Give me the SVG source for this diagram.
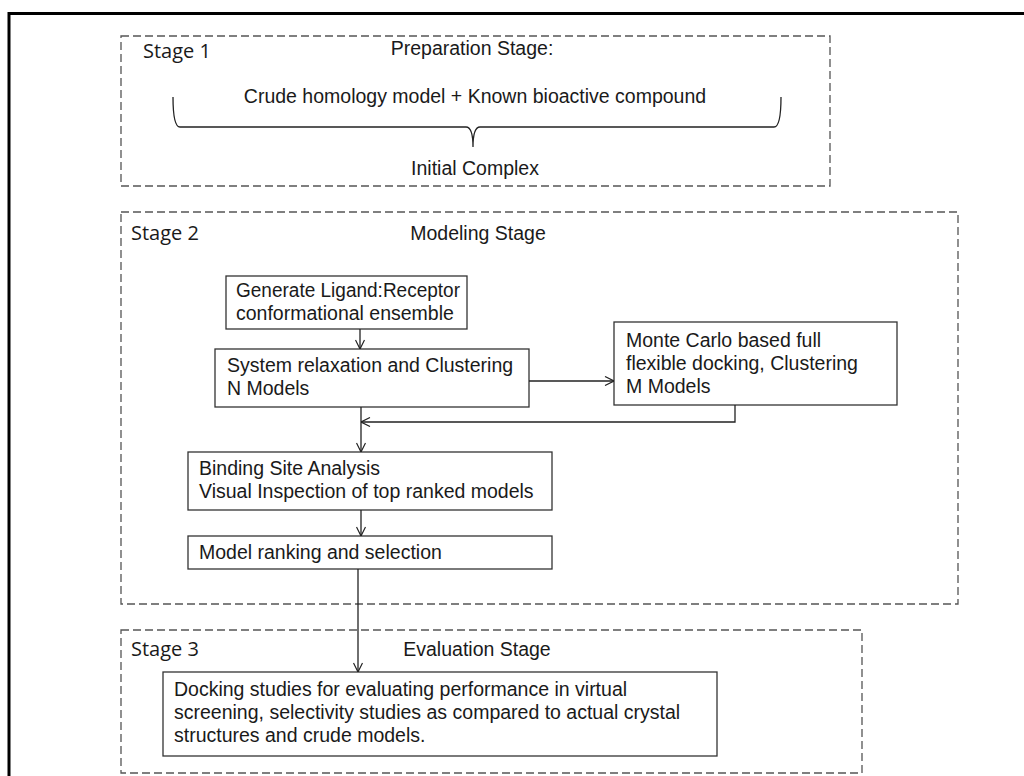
<svg xmlns="http://www.w3.org/2000/svg" width="1024" height="776" viewBox="0 0 1024 776">
<defs>
<marker id="arr" viewBox="0 0 10 10" refX="10" refY="5" markerWidth="10" markerHeight="10" markerUnits="userSpaceOnUse" orient="auto">
<polyline points="1,0.5 10,5 1,9.5" fill="none" stroke="#222" stroke-width="1.2"/>
</marker>
</defs>
<style>
.stage{fill:none;stroke:#555;stroke-width:1.3;stroke-dasharray:8,4}
.box{fill:#fff;stroke:#333;stroke-width:1.3}
.t{font-family:"Liberation Sans",Arial,sans-serif;font-size:19.5px;fill:#1a1a1a}
.h{font-family:"Open Sans","Liberation Sans",sans-serif;font-size:20px;fill:#1a1a1a}
.c{fill:none;stroke:#222;stroke-width:1.3}
</style>
<rect width="1024" height="776" fill="#fff"/>
<path d="M9,776 V13.5 H1024" fill="none" stroke="#000" stroke-width="3"/>

<g id="stage1">
<rect class="stage" x="121" y="36" width="709" height="150"/>
<text class="h" x="143" y="58">Stage 1</text>
<text class="t" x="472" y="55" text-anchor="middle">Preparation Stage:</text>
<text class="t" x="475" y="103" text-anchor="middle">Crude homology model + Known bioactive compound</text>
<path class="c" d="M173,97 Q173,127 180,127 H466 Q473,127 473,147 Q473,127 480,127 H774 Q781,127 781,97"/>
<text class="t" x="475" y="175" text-anchor="middle">Initial Complex</text>
</g>

<g id="stage2">
<rect class="stage" x="121" y="212" width="837" height="392"/>
<text class="h" x="131" y="240">Stage 2</text>
<text class="t" x="478" y="240" text-anchor="middle">Modeling Stage</text>
</g>

<g id="generate">
<rect class="box" x="226" y="276" width="241" height="53"/>
<text class="t" x="236" y="297" textLength="224" lengthAdjust="spacingAndGlyphs">Generate Ligand:Receptor</text>
<text class="t" x="236" y="320">conformational ensemble</text>
</g>

<g id="relax">
<rect class="box" x="215" y="349" width="314" height="58"/>
<text class="t" x="227" y="372">System relaxation and Clustering</text>
<text class="t" x="227" y="395">N Models</text>
</g>

<g id="montecarlo">
<rect class="box" x="614" y="322" width="283" height="83"/>
<text class="t" x="626" y="347">Monte Carlo based full</text>
<text class="t" x="626" y="370">flexible docking, Clustering</text>
<text class="t" x="626" y="393">M Models</text>
</g>

<g id="binding">
<rect class="box" x="188" y="452" width="364" height="58"/>
<text class="t" x="199" y="475">Binding Site Analysis</text>
<text class="t" x="199" y="498">Visual Inspection of top ranked models</text>
</g>

<g id="ranking">
<rect class="box" x="188" y="536" width="364" height="33"/>
<text class="t" x="199" y="559">Model ranking and selection</text>
</g>

<g id="stage3">
<rect class="stage" x="121" y="630" width="741" height="143"/>
<text class="h" x="131" y="656">Stage 3</text>
<text class="t" x="477" y="656" text-anchor="middle">Evaluation Stage</text>
</g>

<g id="docking">
<rect class="box" x="163" y="672" width="554" height="84"/>
<text class="t" x="174" y="696">Docking studies for evaluating performance in virtual</text>
<text class="t" x="174" y="719">screening, selectivity studies as compared to actual crystal</text>
<text class="t" x="174" y="742">structures and crude models.</text>
</g>

<g id="connectors">
<line class="c" x1="360" y1="329" x2="360" y2="349" marker-end="url(#arr)"/>
<line class="c" x1="529" y1="381" x2="614" y2="381" marker-end="url(#arr)"/>
<polyline class="c" points="735,405 735,422 361,422" marker-end="url(#arr)"/>
<line class="c" x1="361" y1="407" x2="361" y2="452" marker-end="url(#arr)"/>
<line class="c" x1="361" y1="510" x2="361" y2="536" marker-end="url(#arr)"/>
<line class="c" x1="358" y1="569" x2="358" y2="672" marker-end="url(#arr)"/>
</g>
</svg>
